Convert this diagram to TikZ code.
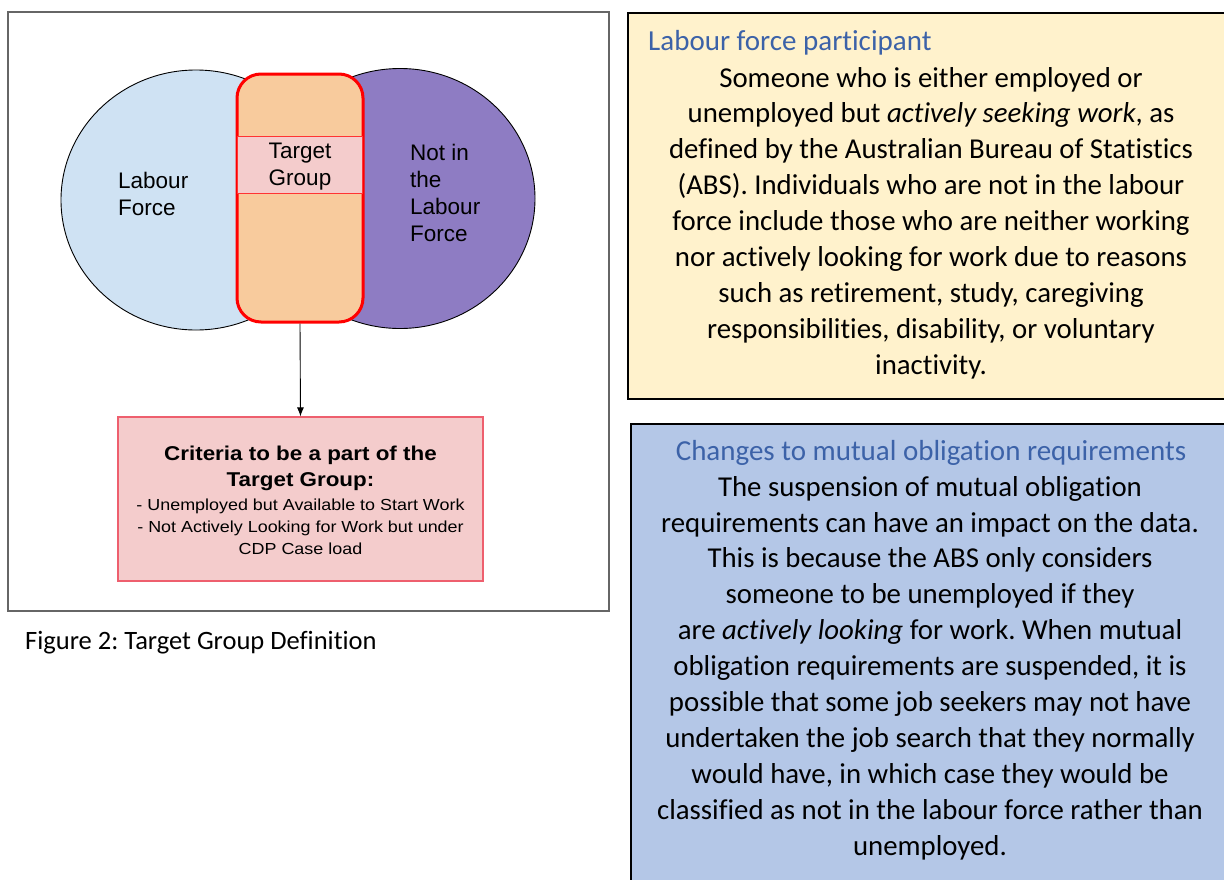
\documentclass[tikz,border=0pt]{standalone}
\usepackage{fontspec}
\setmainfont{Carlito}[Ligatures=NoCommon]
\newfontfamily\arialfont{Liberation Sans}
\newfontfamily\critfont[FakeStretch=1.12]{Liberation Sans}
\usetikzlibrary{shapes.geometric,arrows.meta}
\frenchspacing
\definecolor{lfblue}{HTML}{CFE2F3}
\definecolor{nlfpurple}{HTML}{8E7CC3}
\definecolor{tgorange}{HTML}{F8CB9D}
\definecolor{tgpink}{HTML}{F4CCCC}
\definecolor{critborder}{HTML}{EE5F6E}
\definecolor{noteyellow}{HTML}{FFF2CC}
\definecolor{noteblue}{HTML}{B4C7E7}
\definecolor{titleblue}{HTML}{3C62A8}
\definecolor{framegray}{HTML}{666666}
\tikzset{
  venn/.style={ellipse, draw=black, line width=0.9pt, inner sep=0pt, minimum width=270pt, minimum height=260pt},
  vennlabel/.style={font=\arialfont\fontsize{22.5}{27}\selectfont, align=left, inner sep=0pt},
  notebox/.style={draw=black, line width=2pt, inner sep=0pt},
  notetitle/.style={font=\fontsize{29}{32}\selectfont, text=titleblue, inner sep=0pt},
  notebody/.style={font=\fontsize{28.8}{35.9}\selectfont, align=center, inner sep=0pt},
}
\begin{document}
\begin{tikzpicture}[x=1pt,y=-1pt]
\useasboundingbox (0,0) rectangle (1224,879);
\fill[white] (0,0) rectangle (1224,879);
% left frame
\node[draw=framegray, line width=1.2pt, minimum width=601pt, minimum height=599pt, inner sep=0pt] (frame) at (308.5,311.5) {};
% venn
\node[venn, fill=lfblue] (lf) at (196,200) {};
\node[venn, fill=nlfpurple] (nlf) at (400,198.5) {};
\node[draw=red, line width=3pt, fill=tgorange, rounded corners=24pt, minimum width=126pt, minimum height=248pt, inner sep=0pt] (tg) at (300,198) {};
\node[draw=red!80, line width=1pt, fill=tgpink, minimum width=125pt, minimum height=57pt, inner sep=0pt] (band) at (300,164.5) {};
\node[vennlabel, align=center] (tgtext) at (300,167) {Target\\Group};
\node[vennlabel, anchor=west] (lftext) at (118,193.5) {Labour\\Force};
\node[vennlabel, anchor=west] (nlftext) at (410,193) {Not in\\the\\Labour\\Force};
% criteria
\node[draw=critborder, line width=1.2pt, fill=tgpink, minimum width=365pt, minimum height=164pt, inner sep=0pt] (crit) at (300.5,499) {};
\node[inner sep=0pt, align=center, font=\critfont\bfseries\fontsize{20}{26}\selectfont] (crithead) at (300.5,468) {Criteria to be a part of the\\Target Group:};
\node[inner sep=0pt, align=center, font=\critfont\fontsize{16}{22}\selectfont] (critlist) at (300.5,527) {- Unemployed but Available to Start Work\\- Not Actively Looking for Work but under\\CDP Case load};
\draw[-{Latex[length=9pt,width=7pt]}, line width=0.9pt] (tg.south) -- (crit.north);
% caption
\node[anchor=west, inner sep=0pt, font=\fontsize{26.5}{30}\selectfont] (caption) at (25,643) {Figure 2: Target Group Definition};
% note 1
\node[notebox, fill=noteyellow, minimum width=610pt, minimum height=386pt, anchor=north west] (note1) at (627,12) {};
\node[notetitle, anchor=west] (note1title) at (648,43) {Labour force participant};
\node[notebody] (note1body) at (931,223) {Someone who is either employed or\\unemployed but \textit{actively seeking work}, as\\defined by the Australian Bureau of Statistics\\(ABS). Individuals who are not in the labour\\force include those who are neither working\\nor actively looking for work due to reasons\\such as retirement, study, caregiving\\responsibilities, disability, or voluntary\\inactivity.};
% note 2
\node[notebox, fill=noteblue, minimum width=610pt, minimum height=470pt, anchor=north west] (note2) at (630,423) {};
\node[notetitle] (note2title) at (931,453) {Changes to mutual obligation requirements};
\node[notebody] (note2body) at (930,668) {The suspension of mutual obligation\\requirements can have an impact on the data.\\This is because the ABS only considers\\someone to be unemployed if they\\are \textit{actively looking} for work. When mutual\\obligation requirements are suspended, it is\\possible that some job seekers may not have\\undertaken the job search that they normally\\would have, in which case they would be\\classified as not in the labour force rather than\\unemployed.};
\end{tikzpicture}
\end{document}
